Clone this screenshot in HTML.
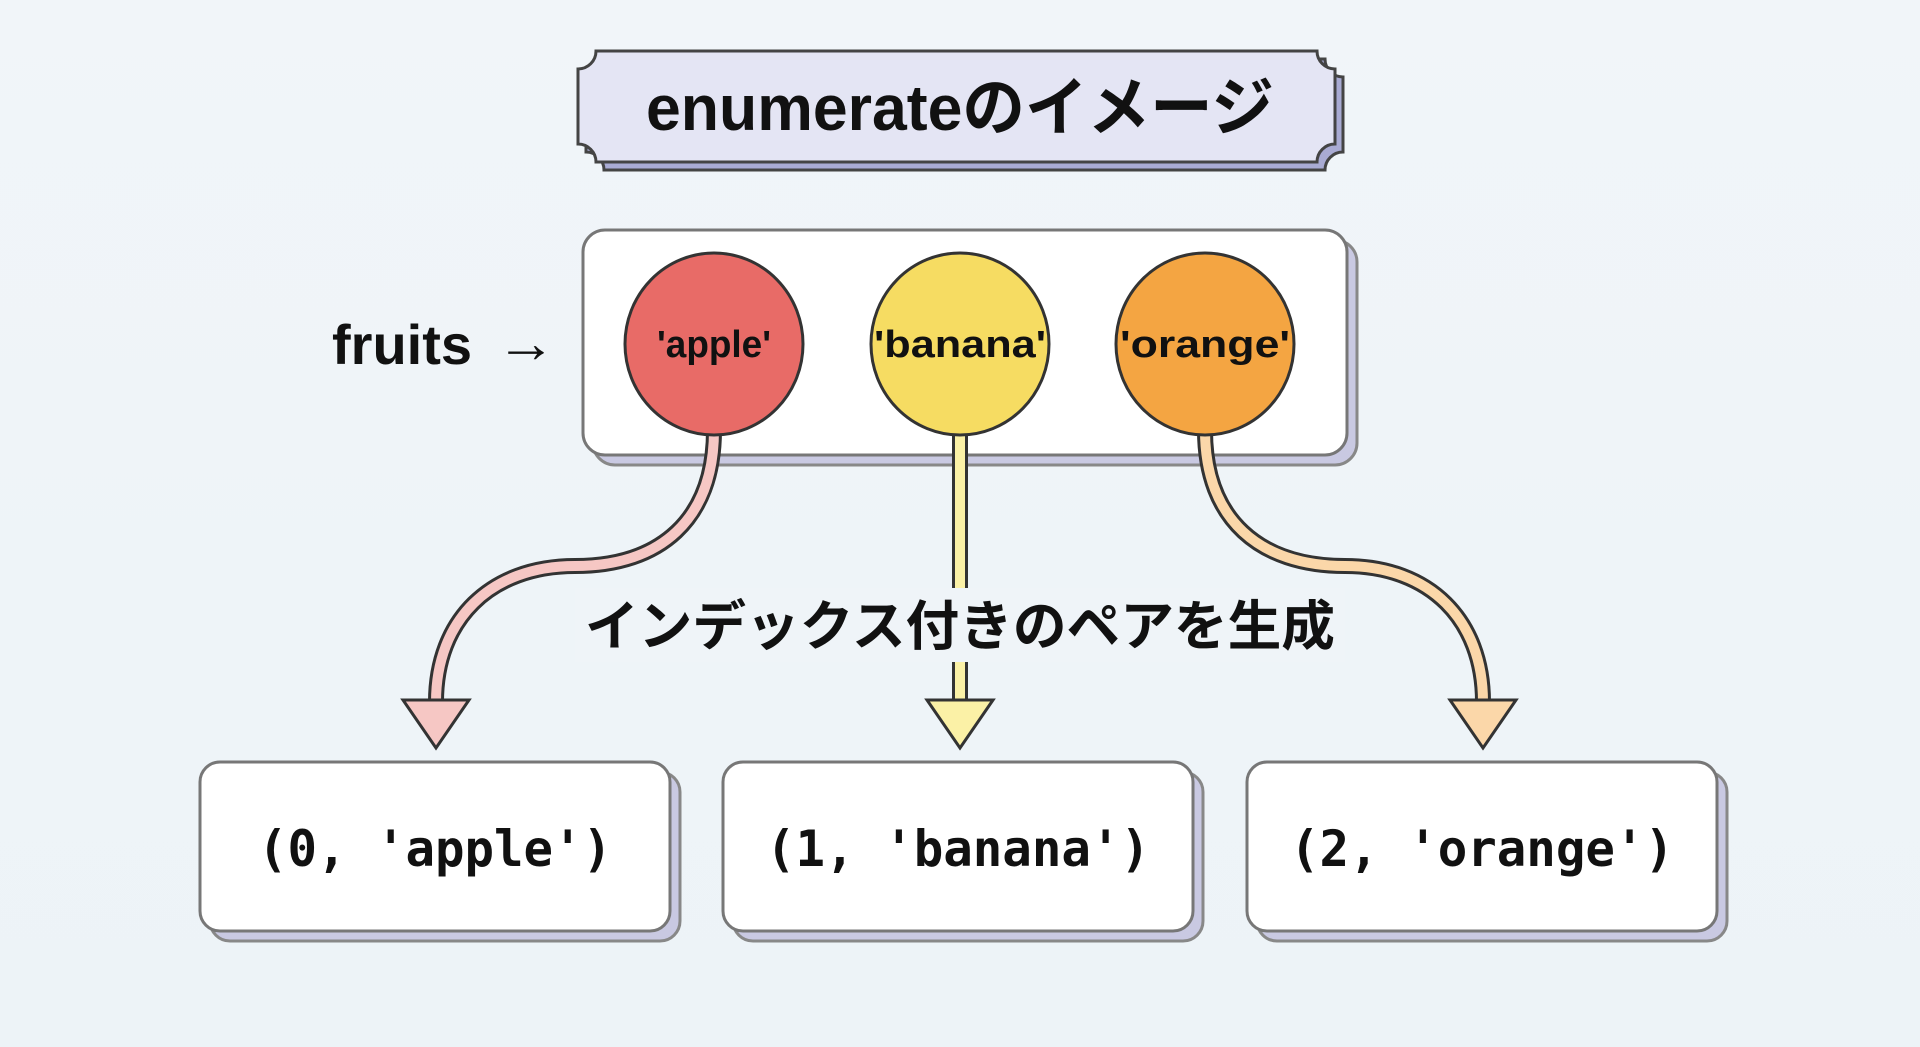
<!DOCTYPE html>
<html><head><meta charset="utf-8"><style>
html,body{margin:0;padding:0}
body{width:1920px;height:1047px;overflow:hidden;background:linear-gradient(180deg,#f1f5f9,#eef4f8 60%,#edf3f7);}
svg{display:block}
.jp{font-family:"Liberation Sans","Noto Sans CJK JP",sans-serif;font-weight:bold}
.mono{font-family:"DejaVu Sans Mono","Liberation Mono",monospace;font-weight:bold}
</style></head><body>
<svg width="1920" height="1047" viewBox="0 0 1920 1047" xmlns="http://www.w3.org/2000/svg">
<g transform="translate(8,8)">
<path d="M596,51 H1317 A18,18 0 0 0 1335,69 V144 A18,18 0 0 0 1317,162 H596 A18,18 0 0 0 578,144 V69 A18,18 0 0 0 596,51 Z" fill="#a9abd3" stroke="#444" stroke-width="3"/>
</g>
<path d="M596,51 H1317 A18,18 0 0 0 1335,69 V144 A18,18 0 0 0 1317,162 H596 A18,18 0 0 0 578,144 V69 A18,18 0 0 0 596,51 Z" fill="#e4e5f4" stroke="#444" stroke-width="3"/>
<text x="960" y="130" text-anchor="middle" class="jp" font-size="64" fill="#111" textLength="628" lengthAdjust="spacingAndGlyphs">enumerateのイメージ</text>

<rect x="593" y="240" width="764" height="225" rx="22" fill="#c9c9e2" stroke="#888" stroke-width="3"/>
<rect x="583" y="230" width="764" height="225" rx="22" fill="#fff" stroke="#777" stroke-width="3"/>
<text x="332" y="364" class="jp" font-size="56" fill="#111">fruits</text>
<text x="496" y="362" class="jp" font-size="56" fill="#111" textLength="60" lengthAdjust="spacingAndGlyphs">→</text>

<g fill="none" stroke-linecap="butt">
<path d="M714,430 C714,520 660,566 575,566 C490,566 436,620 436,702" stroke="#333" stroke-width="16"/>
<path d="M714,430 C714,520 660,566 575,566 C490,566 436,620 436,702" stroke="#f6c7c4" stroke-width="10"/>
<path d="M960,430 V702" stroke="#333" stroke-width="16"/>
<path d="M960,430 V702" stroke="#fbf1a6" stroke-width="10"/>
<path d="M1205,430 C1205,520 1260,566 1345,566 C1430,566 1483,620 1483,702" stroke="#333" stroke-width="16"/>
<path d="M1205,430 C1205,520 1260,566 1345,566 C1430,566 1483,620 1483,702" stroke="#fbd7a9" stroke-width="10"/>
</g>
<polygon points="403,700 469,700 436,748" fill="#f6c7c4" stroke="#333" stroke-width="3"/>
<polygon points="927,700 993,700 960,748" fill="#fbf1a6" stroke="#333" stroke-width="3"/>
<polygon points="1450,700 1516,700 1483,748" fill="#fbd7a9" stroke="#333" stroke-width="3"/>

<ellipse cx="714" cy="344" rx="89" ry="91" fill="#e86b67" stroke="#333" stroke-width="3"/>
<ellipse cx="960" cy="344" rx="89" ry="91" fill="#f6dc62" stroke="#333" stroke-width="3"/>
<ellipse cx="1205" cy="344" rx="89" ry="91" fill="#f4a542" stroke="#333" stroke-width="3"/>
<text x="714" y="357" text-anchor="middle" class="jp" font-size="38" fill="#111" textLength="114" lengthAdjust="spacingAndGlyphs">'apple'</text>
<text x="960" y="357" text-anchor="middle" class="jp" font-size="38" fill="#111" textLength="172" lengthAdjust="spacingAndGlyphs">'banana'</text>
<text x="1205" y="357" text-anchor="middle" class="jp" font-size="38" fill="#111" textLength="170" lengthAdjust="spacingAndGlyphs">'orange'</text>

<rect x="575" y="588" width="770" height="74" fill="#eff4f8"/>
<text x="960" y="645" text-anchor="middle" class="jp" font-size="54" fill="#111" textLength="750" lengthAdjust="spacingAndGlyphs">インデックス付きのペアを生成</text>

<g>
<rect x="210" y="772" width="470" height="169" rx="20" fill="#c9c9e2" stroke="#888" stroke-width="3"/>
<rect x="200" y="762" width="470" height="169" rx="20" fill="#fff" stroke="#777" stroke-width="3"/>
<rect x="733" y="772" width="470" height="169" rx="20" fill="#c9c9e2" stroke="#888" stroke-width="3"/>
<rect x="723" y="762" width="470" height="169" rx="20" fill="#fff" stroke="#777" stroke-width="3"/>
<rect x="1257" y="772" width="470" height="169" rx="20" fill="#c9c9e2" stroke="#888" stroke-width="3"/>
<rect x="1247" y="762" width="470" height="169" rx="20" fill="#fff" stroke="#777" stroke-width="3"/>
</g>
<text x="435" y="866" text-anchor="middle" class="mono" font-size="50" fill="#111" textLength="354" lengthAdjust="spacingAndGlyphs">(0, 'apple')</text>
<text x="958" y="866" text-anchor="middle" class="mono" font-size="50" fill="#111" textLength="384" lengthAdjust="spacingAndGlyphs">(1, 'banana')</text>
<text x="1482" y="866" text-anchor="middle" class="mono" font-size="50" fill="#111" textLength="384" lengthAdjust="spacingAndGlyphs">(2, 'orange')</text>
</svg>
</body></html>
